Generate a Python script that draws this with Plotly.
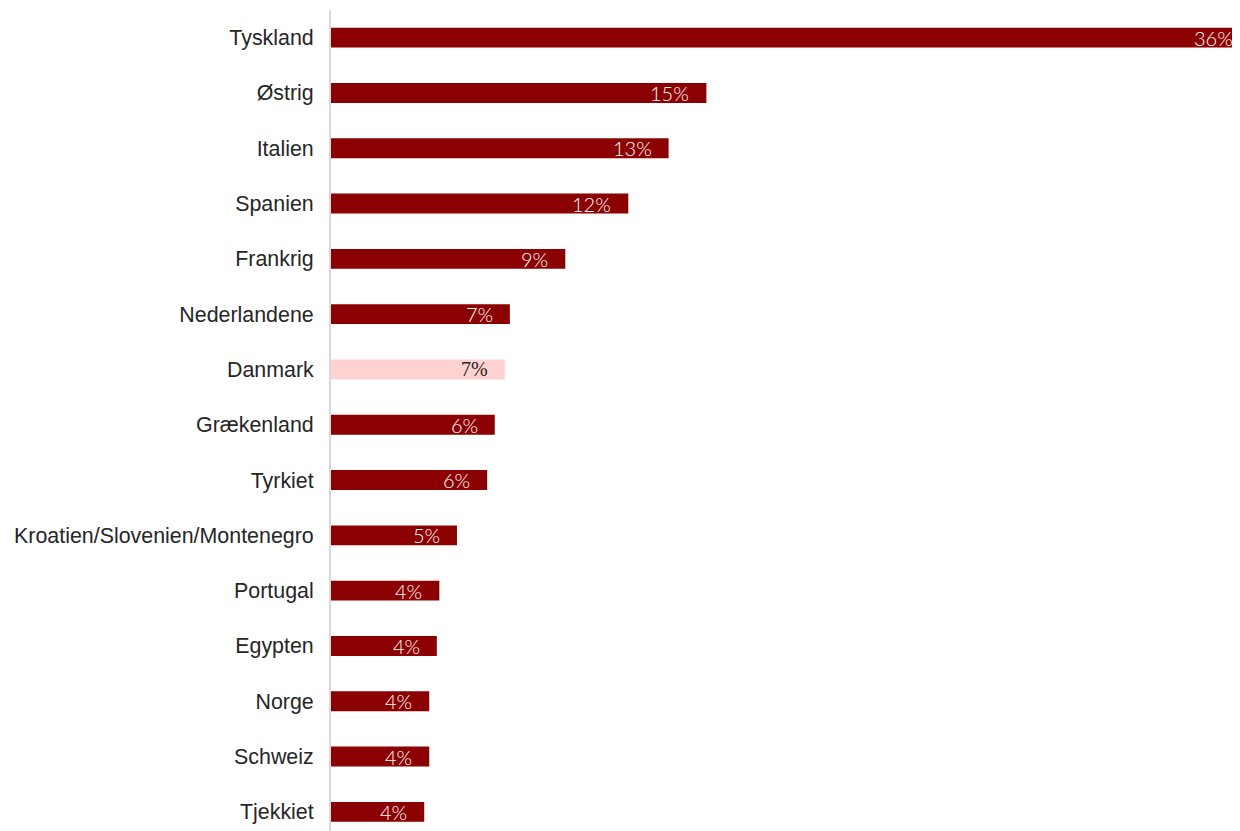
import plotly.graph_objects as go

countries = ["Tyskland", "Østrig", "Italien", "Spanien", "Frankrig", "Nederlandene",
             "Danmark", "Grækenland", "Tyrkiet", "Kroatien/Slovenien/Montenegro",
             "Portugal", "Egypten", "Norge", "Schweiz", "Tjekkiet"]
values = [36.0, 14.9, 13.4, 11.8, 9.3, 7.1, 6.9, 6.5, 6.2, 5.0, 4.3, 4.2, 3.9, 3.9, 3.7]
labels = ["36%", "15%", "13%", "12%", "9%", "7%", "7%", "6%", "6%", "5%", "4%", "4%", "4%", "4%", "4%"]

highlight = "Danmark"
bar_colors = ["#FFD1D1" if c == highlight else "#8B0000" for c in countries]

fig = go.Figure(go.Bar(
    x=values, y=countries, orientation="h",
    marker=dict(color=bar_colors, line=dict(width=0)),
    hoverinfo="skip",
))

# value labels placed inside the bar end (clamped at the plot edge for the longest bar)
vmax = max(values)
for c, v, t in zip(countries, values, labels):
    is_hl = c == highlight
    fig.add_annotation(
        x=v, y=c, text=t, showarrow=False,
        xanchor="right", yanchor="middle",
        xshift=-3 if v == vmax else -15,
        font=dict(color="#262626" if is_hl else "#FFFFFF", size=20,
                  family="Liberation Serif" if is_hl else "Lato", weight=300),
    )

# page body has an 8px default margin, so the figure is sized to fit inside it
fig.update_layout(
    width=1232, height=823,
    margin=dict(l=323, r=2, t=2, b=0),
    paper_bgcolor="white", plot_bgcolor="white",
    bargap=0.64, showlegend=False,
)
fig.update_xaxes(range=[0, 36.0], visible=False, showgrid=False, zeroline=False, automargin=False)
fig.update_yaxes(
    type="category", categoryorder="array", categoryarray=countries,
    range=[14.346, -0.5], showline=True, linecolor="#D9D9D9", linewidth=2,
    showgrid=False, zeroline=False, ticks="outside", ticklen=11, tickcolor="rgba(0,0,0,0)",
    tickfont=dict(family="Liberation Sans, Arial", size=21.4, color="#262626"),
    automargin=False,
)

fig.write_html("out.html")
